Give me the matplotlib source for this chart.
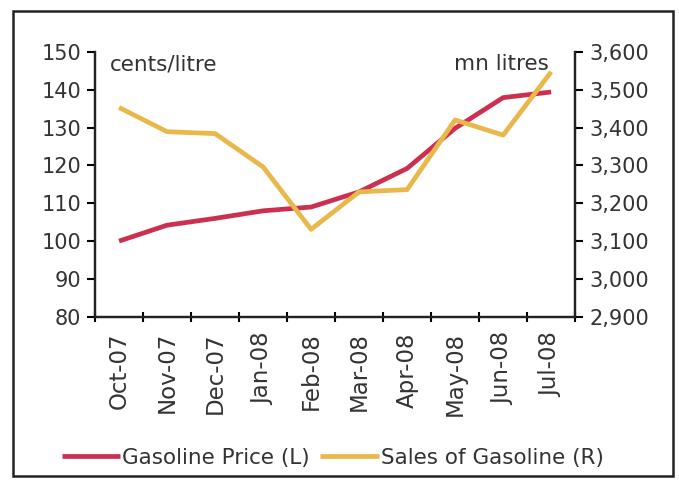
import matplotlib.pyplot as plt
from matplotlib.patches import Rectangle
from matplotlib.ticker import FuncFormatter

months = ['Oct-07', 'Nov-07', 'Dec-07', 'Jan-08', 'Feb-08',
          'Mar-08', 'Apr-08', 'May-08', 'Jun-08', 'Jul-08']
price = [100, 104.2, 106, 108, 109, 113, 119.2, 129.8, 137.9, 139.4]
sales = [3453, 3389, 3384, 3296, 3131, 3230, 3236, 3420, 3380, 3547]

red = '#cc2f4f'
gold = '#e9b74a'
txt = '#333333'

plt.rcParams['font.family'] = 'DejaVu Sans'

fig = plt.figure(figsize=(6.79, 4.80), dpi=100)
ax = fig.add_axes([0.140, 0.340, 0.707, 0.552])
ax2 = ax.twinx()

x = list(range(len(months)))
l1, = ax.plot(x, price, color=red, lw=3.4, solid_capstyle='butt')
l2, = ax2.plot(x, sales, color=gold, lw=3.4, solid_capstyle='butt')

ax.set_xlim(-0.5, len(months) - 0.5)
ax.set_ylim(80, 150)
ax.set_yticks(range(80, 151, 10))
ax2.set_ylim(2900, 3600)
ax2.set_yticks(range(2900, 3601, 100))
ax2.yaxis.set_major_formatter(FuncFormatter(lambda v, p: f'{int(v):,}'))

ax.set_xticks(x)
ax.set_xticklabels(months, rotation=90)
ax.set_xticks([i - 0.5 for i in range(len(months) + 1)], minor=True)
ax.tick_params(axis='x', which='major', length=0, pad=11)
ax.tick_params(axis='x', which='minor', length=7, width=1.5, direction='inout')

for a in (ax, ax2):
    a.spines['top'].set_visible(False)
    for s in ('left', 'right', 'bottom'):
        a.spines[s].set_linewidth(1.6)
        a.spines[s].set_color('#222222')
    a.tick_params(axis='y', length=6, width=1.5, labelsize=15, labelcolor=txt, pad=4)
ax.tick_params(axis='x', labelsize=16.5, labelcolor=txt)

ax.text(0.03, 0.99, 'cents/litre', transform=ax.transAxes, fontsize=15.5,
        color=txt, va='top', ha='left')
ax2.text(0.945, 0.99, 'mn litres', transform=ax.transAxes, fontsize=15.5,
         color=txt, va='top', ha='right')

fig.legend([l1, l2], ['Gasoline Price (L)', 'Sales of Gasoline (R)'],
           loc='center', bbox_to_anchor=(0.49, 0.046), ncol=2, frameon=False,
           fontsize=15.5, handlelength=2.7, handletextpad=0.1, columnspacing=0.5,
           labelcolor=txt)

# border round the whole chart
fig.patches.append(Rectangle((0.019, 0.009), 0.972, 0.968, transform=fig.transFigure,
                             fill=False, edgecolor='#222222', lw=1.8))

fig.savefig('out.png', dpi=100)
